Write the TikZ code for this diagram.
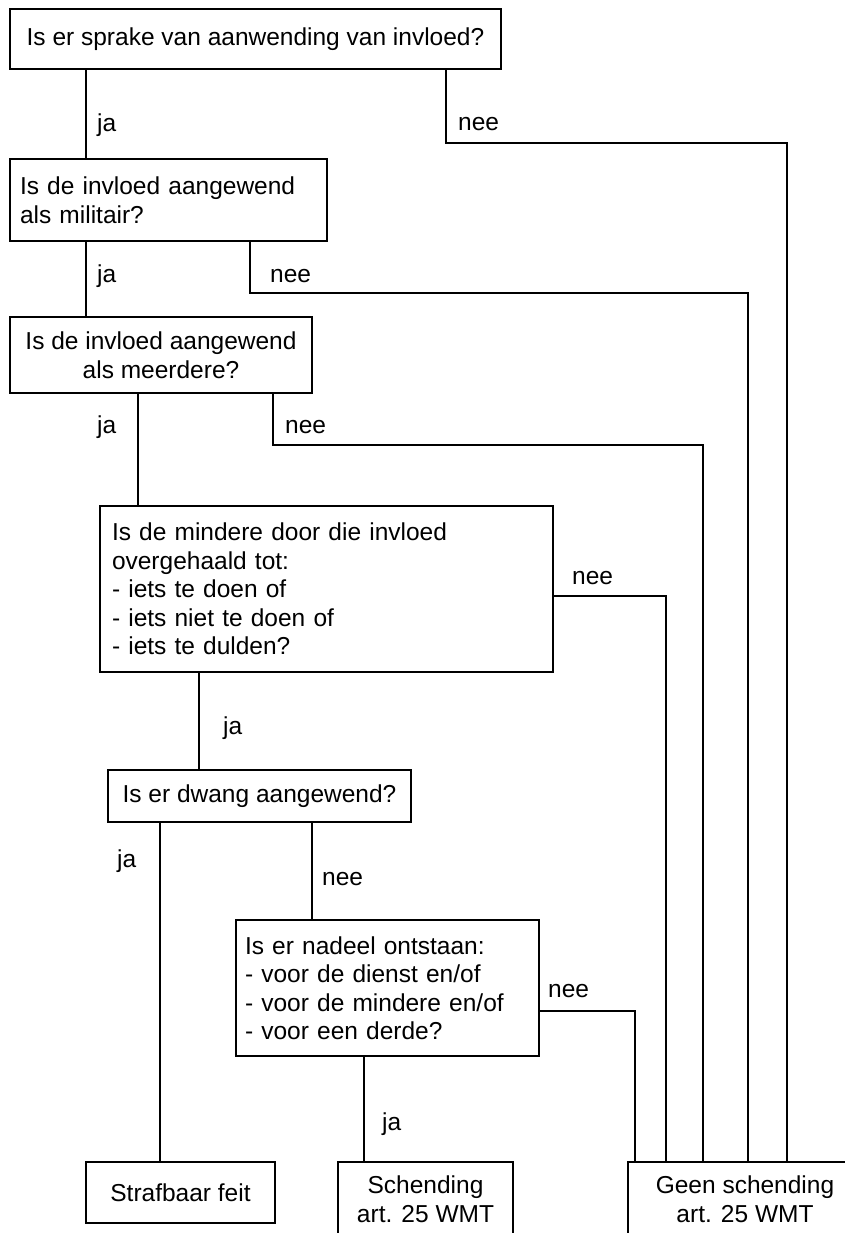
\documentclass[tikz,border=0pt]{standalone}
\usepackage{fontspec}
\setmainfont{Liberation Sans}
\begin{document}
\begin{tikzpicture}[x=1pt,y=-1pt,
	box/.style={draw,line width=1.5pt,inner sep=0pt,font=\fontsize{24.5}{28.5}\selectfont},
	lbl/.style={anchor=base west,inner sep=0pt,font=\fontsize{24.5}{28.5}\selectfont}]
	\useasboundingbox (0,0) rectangle (845,1233);
	\fill[white] (0,0) rectangle (845,1233);
	\clip (0,0) rectangle (845,1233);

	% questions
	\node[box,minimum width=491pt,minimum height=60pt,align=center] (q1) at (255.5,39) {Is er sprake van aanwending van invloed?};
	\node[box,text width=297pt,inner xsep=10pt,minimum height=82pt,align=left] (q2) at (168.5,200) {Is de invloed aangewend\\als militair?};
	\node[box,minimum width=302pt,minimum height=76pt,align=center] (q3) at (161,355) {Is de invloed aangewend\\als meerdere?};
	\node[box,text width=429pt,inner xsep=12pt,minimum height=166pt,align=left] (q4) at (326.5,589) {Is de mindere door die invloed\\overgehaald tot:\\- iets te doen of\\- iets niet te doen of\\- iets te dulden?};
	\node[box,minimum width=303pt,minimum height=52pt] (q5) at (259.5,796) {Is er dwang aangewend?};
	\node[box,text width=285pt,inner xsep=9pt,minimum height=136pt,align=left] (q6) at (387.5,988) {Is er nadeel ontstaan:\\- voor de dienst en/of\\- voor de mindere en/of\\- voor een derde?};

	% results
	\node[box,minimum width=189pt,minimum height=61pt] (r1) at (180.5,1192.5) {Strafbaar feit};
	\node[box,minimum width=175pt,minimum height=74pt,align=center] (r2) at (425.5,1199) {Schending\\art. 25 WMT};
	\node[box,minimum width=234pt,minimum height=74pt,align=center] (r3) at (745,1199) {Geen schending\\art. 25 WMT};

	\coordinate (j1) at (86,0);
	\coordinate (j3) at (138,0);
	\coordinate (j4) at (199,0);
	\coordinate (j5) at (160,0);
	\coordinate (n5) at (312,0);
	\coordinate (j6) at (364,0);
	\coordinate (n1) at (446,143); % bends
	\coordinate (n2) at (250,293);
	\coordinate (n3) at (273,445);
	\coordinate (n4) at (666,596);
	\coordinate (n6) at (635,1011);
	\coordinate (g1) at (787,0);
	\coordinate (g2) at (748,0);
	\coordinate (g3) at (703,0);

	\draw[line width=1.5pt] (q1.south -| j1) -- (q2.north -| j1);
	\draw[line width=1.5pt] (q2.south -| j1) -- (q3.north -| j1);
	\draw[line width=1.5pt] (q3.south -| j3) -- (q4.north -| j3);
	\draw[line width=1.5pt] (q4.south -| j4) -- (q5.north -| j4);
	\draw[line width=1.5pt] (q5.south -| j5) -- (r1.north -| j5);
	\draw[line width=1.5pt] (q5.south -| n5) -- (q6.north -| n5);
	\draw[line width=1.5pt] (q6.south -| j6) -- (r2.north -| j6);
	\draw[line width=1.5pt] (q1.south -| n1) -- (n1) -| (r3.north -| g1);
	\draw[line width=1.5pt] (q2.south -| n2) -- (n2) -| (r3.north -| g2);
	\draw[line width=1.5pt] (q3.south -| n3) -- (n3) -| (r3.north -| g3);
	\draw[line width=1.5pt] (q4.east |- n4) -| (r3.north -| n4);
	\draw[line width=1.5pt] (q6.east |- n6) -| (r3.north -| n6);

	\node[lbl] (lja1) at (97,132) {ja};
	\node[lbl] (lnee1) at (458,131) {nee};
	\node[lbl] (lja2) at (97,282) {ja};
	\node[lbl] (lnee2) at (270,282) {nee};
	\node[lbl] (lja3) at (97,433) {ja};
	\node[lbl] (lnee3) at (285,433) {nee};
	\node[lbl] (lja4) at (223,734) {ja};
	\node[lbl] (lnee4) at (572,584) {nee};
	\node[lbl] (lja5) at (117,867) {ja};
	\node[lbl] (lnee5) at (322,885) {nee};
	\node[lbl] (lja6) at (382,1130) {ja};
	\node[lbl] (lnee6) at (548,997) {nee};
\end{tikzpicture}
\end{document}
